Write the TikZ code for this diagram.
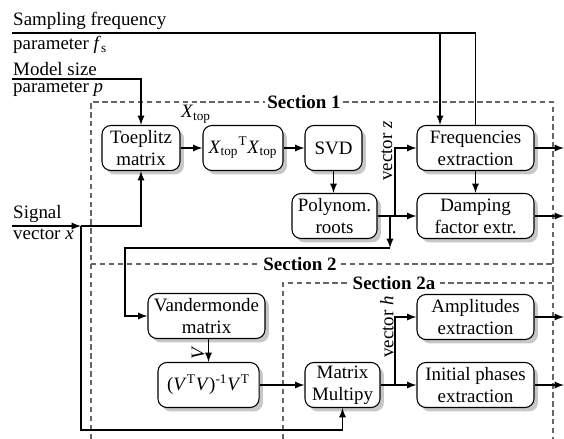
\documentclass[tikz,border=0pt]{standalone}
\usepackage{fontspec}
\setmainfont{Liberation Serif}
\usetikzlibrary{shadows}

\begin{document}
\begin{tikzpicture}[x=0.56pt,y=-0.56pt,font=\fontsize{10.6}{12.4}\selectfont,
  blk/.style={rectangle,draw,rounded corners=5pt,align=center,fill=white,line width=0.6pt,
    inner sep=1pt,minimum height=25.2pt,
    drop shadow={shadow xshift=2.2pt,shadow yshift=-2.2pt,fill=black!22,opacity=1}},
  con/.style={line width=0.8pt},
  inlbl/.style={inner xsep=0.5pt,inner ysep=1.5pt},
  sect/.style={draw=black!60,line width=0.6pt,dash pattern=on 3pt off 2pt},
  sectname/.style={fill=white,font=\fontsize{10.6}{12.4}\selectfont\bfseries,inner sep=1.5pt}]
\useasboundingbox (0,0) rectangle (564,439);
% sections
\draw[sect] (91,439) |- (553,102) -- (553,439);
\draw[sect] (91,264) -- (553,264);
\draw[sect] (283,439) |- (553,283);
\path (304,102) node(s1)[sectname]{Section 1}
(300,264) node(s2)[sectname]{Section 2}
(394,283) node(s2a)[sectname]{Section 2a};
% blocks
\path (141,148) node(toep)[blk,minimum width=43.7pt]{Toeplitz\\matrix}
(243,148) node(xtx)[blk,minimum width=44.8pt]{\textit{X}\textsubscript{top}\textsuperscript{T}\textit{X}\textsubscript{top}}
(333.5,148) node(svd)[blk,minimum width=31.9pt]{SVD}
(334.5,216) node(roots)[blk,minimum width=47.6pt]{Polynom.\\roots}
(475.5,148) node(freq)[blk,minimum width=65.5pt]{Frequencies\\extraction}
(475.5,216) node(damp)[blk,minimum width=65.5pt]{Damping\\factor extr.}
(206.5,316) node(vand)[blk,minimum width=65.5pt]{Vandermonde\\matrix}
(208.5,385) node(vtv)[blk,minimum width=56.6pt]{(\textit{V}\textsuperscript{T}\textit{V})\textsuperscript{-1}\textit{V}\textsuperscript{T}}
(342.5,385) node(mult)[blk,minimum width=42pt]{Matrix\\Multipy}
(475.5,317) node(ampl)[blk,minimum width=65.5pt]{Amplitudes\\extraction}
(475.5,385) node(phase)[blk,minimum width=65.5pt]{Initial phases\\extraction};
% inputs
\coordinate (fsin) at (12,33);
\coordinate (fsj) at (440,33);
\coordinate (pin) at (12,79);
\coordinate (xin) at (12,226);
\coordinate (xj) at (81,226);
\coordinate (xlow) at (81,430);
\coordinate (out) at (564,0);
\draw (fsin) node[anchor=south west,inlbl]{Sampling frequency}
(fsin) node[anchor=north west,inlbl]{parameter \textit{f}\textsubscript{s}};
\draw (pin) node[anchor=south west,inlbl]{Model size}
(pin) node[anchor=north west,inlbl]{parameter \textit{p}};
\draw (xin) node[anchor=south west,inlbl]{Signal}
(xin) node[anchor=north west,inlbl]{vector \textit{x}};
\draw[con] (fsin) -| (freq.north);
\draw[con,-latex] (fsj) -- (fsj |- freq.north);
\draw[con,-latex] (pin) -| (toep.north);
\draw[con,-latex] (xin) -- (xj);
\draw[con,-latex] (xj) -| (toep.south);
\draw[con,-latex] (xj) -- (xlow) -| (mult.south);
% section 1
\draw[con,-latex] (toep) -- (xtx);
\draw (196,114) node{\textit{X}\textsubscript{top}};
\draw[con,-latex] (xtx) -- (svd);
\draw[con,-latex] (svd) -- (svd |- roots.north);
\draw[con,-latex] (roots) -- (damp);
\coordinate (zj) at (395,216);
\draw[con,-latex] (zj) |- (freq.west);
\draw (387,151) node[rotate=90]{vector \textit{z}};
\draw[con,-latex] (freq) -- (damp);
\draw[con,-latex] (freq.east) -- (freq.east -| out);
\draw[con,-latex] (damp.east) -- (damp.east -| out);
% section 2
\coordinate (zd) at (390,248);
\coordinate (vl) at (125,248);
\draw[con,-latex] (roots.east -| zd) -- (zd);
\draw[con,-latex] (zd) -- (vl) |- (vand.west);
\draw[con,-latex] (vtv.north |- vand.south) -- (vtv.north);
\draw (198,353) node[rotate=90]{\textit{V}};
\draw[con,-latex] (vtv) -- (mult);
% section 2a
\coordinate (hj) at (395,385);
\draw[con,-latex] (mult) -- (phase);
\draw[con,-latex] (hj) |- (ampl.west);
\draw (387,327) node[rotate=90]{vector \textit{h}};
\draw[con,-latex] (ampl.east) -- (ampl.east -| out);
\draw[con,-latex] (phase.east) -- (phase.east -| out);
\end{tikzpicture}
\end{document}
